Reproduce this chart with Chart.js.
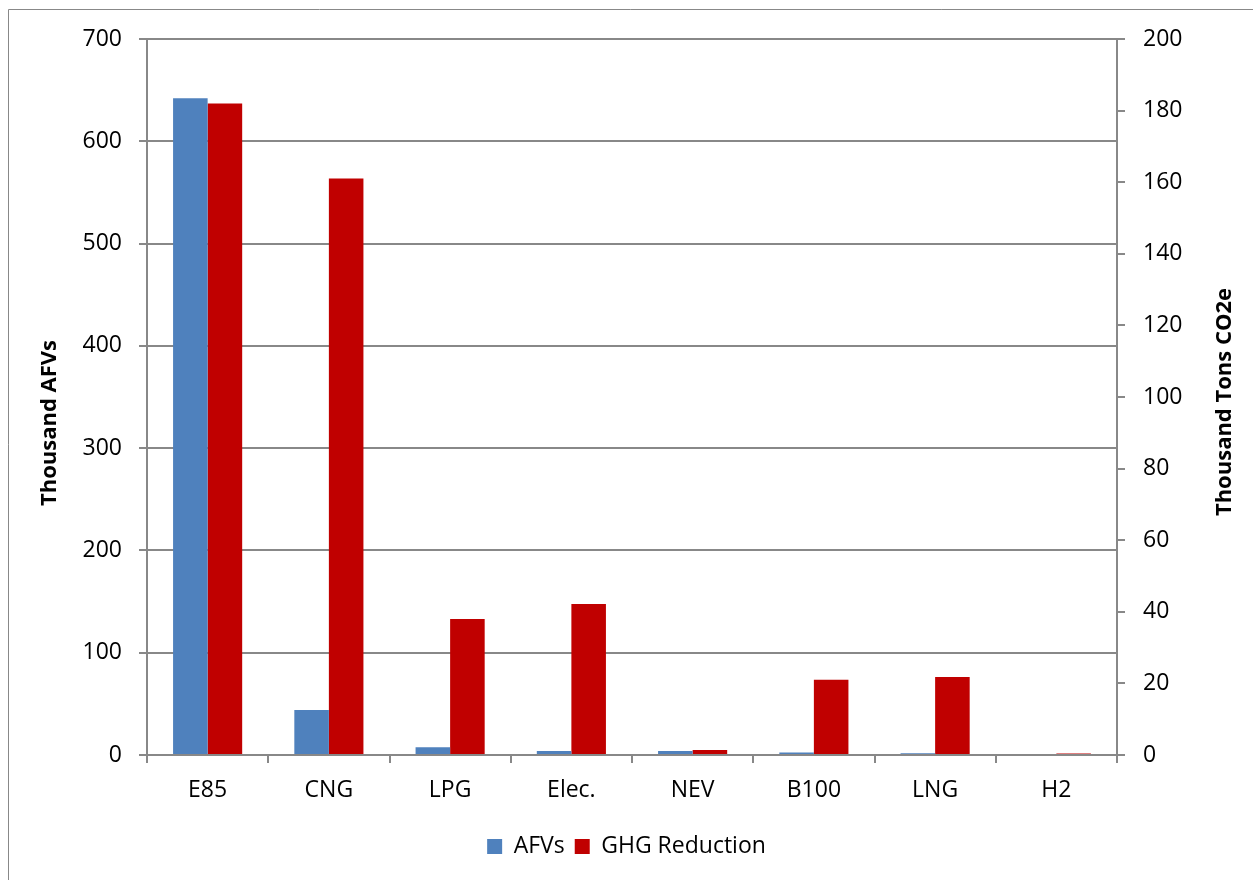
<!DOCTYPE html>
<html>
<head>
<meta charset="utf-8">
<script src="https://cdn.jsdelivr.net/npm/chart.js@4/dist/chart.umd.min.js"></script>
<style>
  body { margin: 0; background: #fff; }
  #wrap { width: 1253px; height: 880px; }
</style>
</head>
<body>
<div id="wrap"><canvas id="grafico" width="1253" height="880"></canvas></div>
<script>
const categorias = ['E85', 'CNG', 'LPG', 'Elec.', 'NEV', 'B100', 'LNG', 'H2'];
const afvs = [642, 44, 7.5, 4, 4, 2.5, 1.7, 0];
const ghgReducao = [182, 161, 38, 42.2, 1.4, 21, 21.8, 0.4];

const cinza = '#888888';
const fonte = 'Open Sans';

// borda externa e titulos dos eixos (ambos girados como no Excel)
const extras = {
    id: 'extras',
    afterDraw(chart) {
        const ctx = chart.ctx;
        ctx.save();
        ctx.strokeStyle = cinza;
        ctx.lineWidth = 1;
        ctx.beginPath();
        ctx.moveTo(8.5, 880);
        ctx.lineTo(8.5, 9.5);
        ctx.lineTo(1253, 9.5);
        ctx.stroke();

        ctx.fillStyle = '#000';
        ctx.font = 'bold 22px "' + fonte + '"';
        ctx.textAlign = 'center';
        ctx.textBaseline = 'middle';
        const titulo = (txt, x, y) => {
            ctx.save();
            ctx.translate(x, y);
            ctx.rotate(-Math.PI / 2);
            ctx.fillText(txt, 0, 0);
            ctx.restore();
        };
        titulo('Thousand AFVs', 50, 423);
        titulo('Thousand Tons CO2e', 1225, 402);
        ctx.restore();
    }
};

const ctx = document.getElementById('grafico').getContext('2d');
new Chart(ctx, {
    type: 'bar',
    data: {
        labels: categorias,
        datasets: [
            { label: 'AFVs', data: afvs, backgroundColor: '#4F81BD', yAxisID: 'y' },
            { label: 'GHG Reduction', data: ghgReducao, backgroundColor: '#C00000', yAxisID: 'y1' }
        ]
    },
    options: {
        responsive: false,
        animation: false,
        categoryPercentage: 0.57,
        barPercentage: 1.0,
        layout: { padding: { top: 39, bottom: 12, left: 0, right: 0 } },
        plugins: {
            legend: {
                position: 'bottom',
                labels: {
                    boxWidth: 15, boxHeight: 15, padding: 10,
                    color: '#000', font: { family: fonte, size: 23 }
                }
            },
            tooltip: { enabled: false }
        },
        scales: {
            x: {
                afterFit: (s) => { s.height = 70; },
                grid: { offset: true, drawOnChartArea: false, tickLength: 8, color: cinza, lineWidth: 2 },
                border: { color: cinza, width: 2 },
                ticks: { color: '#000', padding: 14, font: { family: fonte, size: 23 } }
            },
            y: {
                position: 'left',
                min: 0, max: 700,
                afterFit: (s) => { s.width = 147; },
                grid: { color: cinza, lineWidth: 2, tickLength: 8 },
                border: { color: cinza, width: 2 },
                ticks: { stepSize: 100, color: '#000', padding: 17, font: { family: fonte, size: 23 } }
            },
            y1: {
                position: 'right',
                min: 0, max: 200,
                afterFit: (s) => { s.width = 136; },
                grid: { drawOnChartArea: false, color: cinza, lineWidth: 2, tickLength: 8 },
                border: { color: cinza, width: 2 },
                ticks: { stepSize: 20, color: '#000', padding: 18, font: { family: fonte, size: 23 } }
            }
        }
    },
    plugins: [extras]
});
</script>
</body>
</html>
